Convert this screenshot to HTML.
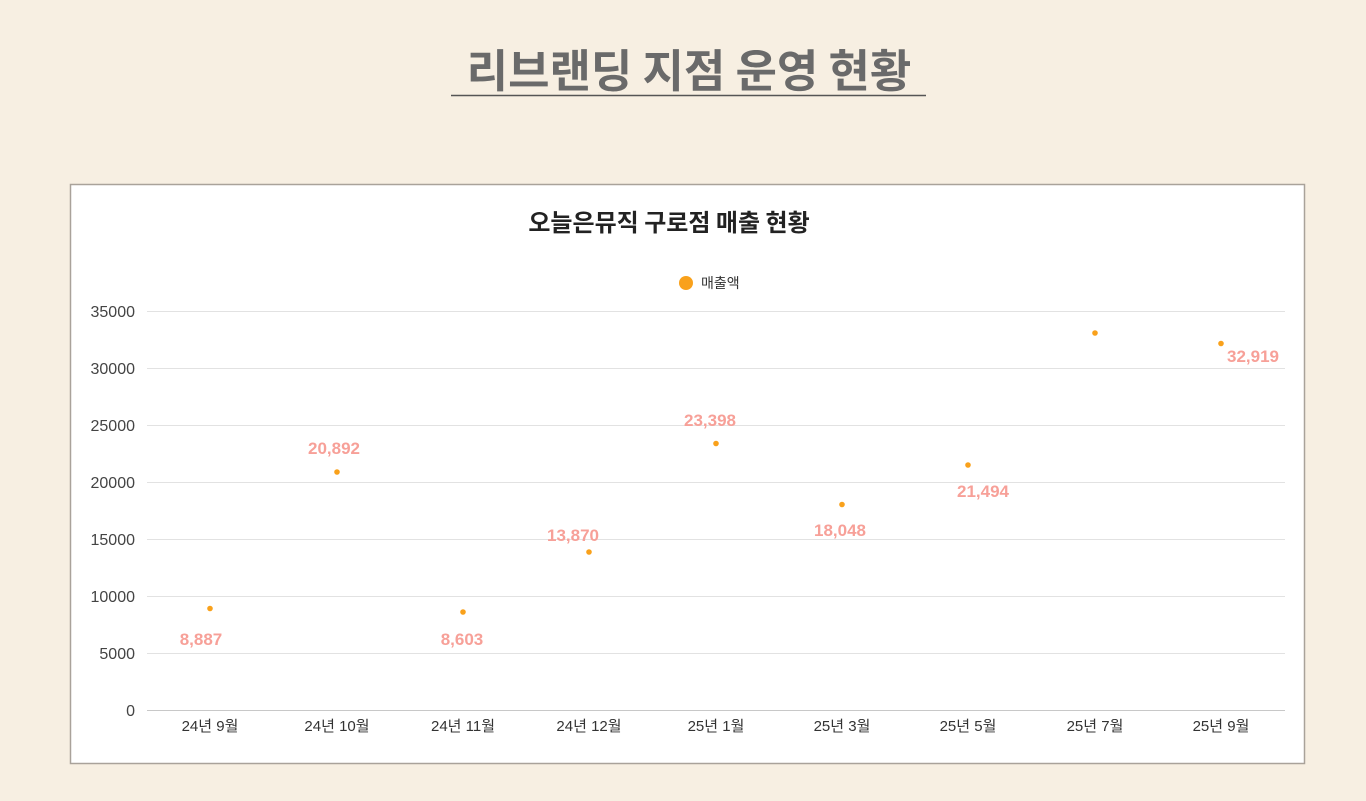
<!DOCTYPE html>
<html><head><meta charset="utf-8"><style>
html,body{margin:0;padding:0;background:#f7efe2;}
body{width:1366px;height:796px;overflow:hidden;}
svg text{font-family:"Liberation Sans","Noto Sans CJK KR",sans-serif;}
</style></head><body>
<svg width="1366" height="796" xmlns="http://www.w3.org/2000/svg">
<rect width="1366" height="796" fill="#f7efe2"/>
<text x="689" y="87" text-anchor="middle" font-size="45" font-weight="bold" fill="#6a6a6a" style="font-family:'Noto Sans CJK KR',sans-serif">리브랜딩 지점 운영 현황</text>
<line x1="451" y1="95.5" x2="926" y2="95.5" stroke="#555" stroke-width="1.5"/>
<rect x="70.5" y="184.5" width="1234" height="579" fill="#fff" stroke="#a9a29a" stroke-width="1.5"/>
<text x="669" y="231" text-anchor="middle" font-size="24" font-weight="bold" fill="#222" style="font-family:'Noto Sans CJK KR',sans-serif">오늘은뮤직 구로점 매출 현황</text>
<circle cx="686" cy="283" r="7" fill="#f9a11b"/>
<text x="701" y="288" font-size="14" fill="#333">매출액</text>
<g stroke="#e2e2e2" stroke-width="1">
<line x1="147" y1="311.5" x2="1285" y2="311.5"/>
<line x1="147" y1="368.5" x2="1285" y2="368.5"/>
<line x1="147" y1="425.5" x2="1285" y2="425.5"/>
<line x1="147" y1="482.5" x2="1285" y2="482.5"/>
<line x1="147" y1="539.5" x2="1285" y2="539.5"/>
<line x1="147" y1="596.5" x2="1285" y2="596.5"/>
<line x1="147" y1="653.5" x2="1285" y2="653.5"/>
</g>
<line x1="147" y1="710.5" x2="1285" y2="710.5" stroke="#c8c8c8"/>
<g font-size="16" fill="#444" text-anchor="end">
<text x="135" y="317">35000</text>
<text x="135" y="374">30000</text>
<text x="135" y="431">25000</text>
<text x="135" y="488">20000</text>
<text x="135" y="545">15000</text>
<text x="135" y="602">10000</text>
<text x="135" y="659">5000</text>
<text x="135" y="716">0</text>
</g>
<g font-size="15" fill="#333" text-anchor="middle">
<text x="210" y="731">24년 9월</text>
<text x="337" y="731">24년 10월</text>
<text x="463" y="731">24년 11월</text>
<text x="589" y="731">24년 12월</text>
<text x="716" y="731">25년 1월</text>
<text x="842" y="731">25년 3월</text>
<text x="968" y="731">25년 5월</text>
<text x="1095" y="731">25년 7월</text>
<text x="1221" y="731">25년 9월</text>
</g>
<g fill="#f9a11b">
<circle cx="210" cy="608.5" r="2.8"/>
<circle cx="337" cy="472" r="2.8"/>
<circle cx="463" cy="612" r="2.8"/>
<circle cx="589" cy="552" r="2.8"/>
<circle cx="716" cy="443.5" r="2.8"/>
<circle cx="842" cy="504.5" r="2.8"/>
<circle cx="968" cy="465" r="2.8"/>
<circle cx="1095" cy="333" r="2.8"/>
<circle cx="1221" cy="343.5" r="2.8"/>
</g>
<g font-size="17" fill="#f7a098" text-anchor="middle" font-weight="bold">
<text x="201" y="645">8,887</text>
<text x="334" y="454">20,892</text>
<text x="462" y="645">8,603</text>
<text x="573" y="541">13,870</text>
<text x="710" y="426">23,398</text>
<text x="840" y="536">18,048</text>
<text x="983" y="497">21,494</text>
<text x="1253" y="362">32,919</text>
</g>
</svg>
</body></html>
